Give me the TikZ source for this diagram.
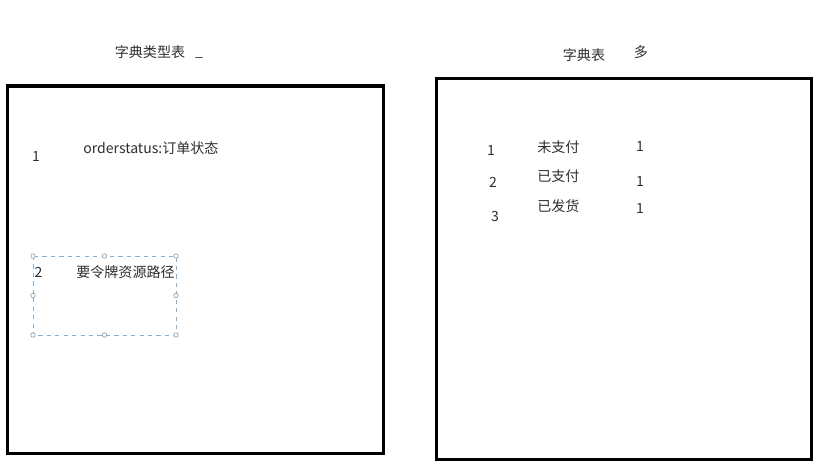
\documentclass[tikz,border=0pt]{standalone}
\usepackage{fontspec}
\setmainfont{Noto Sans CJK SC}
\usepackage{xcolor}
\usetikzlibrary{positioning}
\definecolor{selblue}{HTML}{7FB2D6}
\definecolor{handlegray}{HTML}{8A8F96}
\tikzstyle{tablebox} = [draw, line width=2.2pt]
\tikzstyle{lbl} = [inner sep=0pt, font=\fontsize{10}{12}\selectfont, text=black!82]
\tikzstyle{handle} = [circle, draw=handlegray, fill=white, inner sep=0pt, minimum size=3.2pt, line width=0.4pt]

\begin{document}
\begin{tikzpicture}[x=0.025cm,y=-0.025cm]
  \useasboundingbox (0,0) rectangle (835,473);
  % the two tables
  \draw[tablebox] (7.5,86) rectangle (383.5,453.5);
  \draw[tablebox] (436.5,78.5) rectangle (811.5,459.5);

  % titles
  \node[lbl] (T_typ) at (150,52) {字典类型表};
  \node[lbl] (T_eins) at (199,57) {\_};
  \node[lbl] (T_dict) at (584,55) {字典表};
  \node[lbl] (T_viel) at (641,52) {多};

  % left table
  \node[lbl] (L1) at (36,156) {1};
  \node[lbl, anchor=west] (L1_txt) at (83,148) {orderstatus:订单状态};
  \draw[selblue, dashed, line width=0.5pt] (33,256) rectangle (176,335);
  \foreach \x in {33,104.5,176}
    \foreach \y in {256,335}
      \node[handle] at (\x,\y) {};
  \node[handle] at (33,295.5) {};
  \node[handle] at (176,295.5) {};
  \node[lbl] (L2) at (38.5,272) {2};
  \node[lbl, anchor=west] (L2_txt) at (76,272) {要令牌资源路径};

  % right table
  \node[lbl] (R1) at (491,150) {1};
  \node[lbl, anchor=west] (R1_txt) at (537,147) {未支付};
  \node[lbl] (R1_n) at (640,146) {1};
  \node[lbl] (R2) at (493,182) {2};
  \node[lbl, anchor=west] (R2_txt) at (537,176) {已支付};
  \node[lbl] (R2_n) at (640,181) {1};
  \node[lbl] (R3) at (495,216) {3};
  \node[lbl, anchor=west] (R3_txt) at (537,206) {已发货};
  \node[lbl] (R3_n) at (640,208) {1};
\end{tikzpicture}
\end{document}
